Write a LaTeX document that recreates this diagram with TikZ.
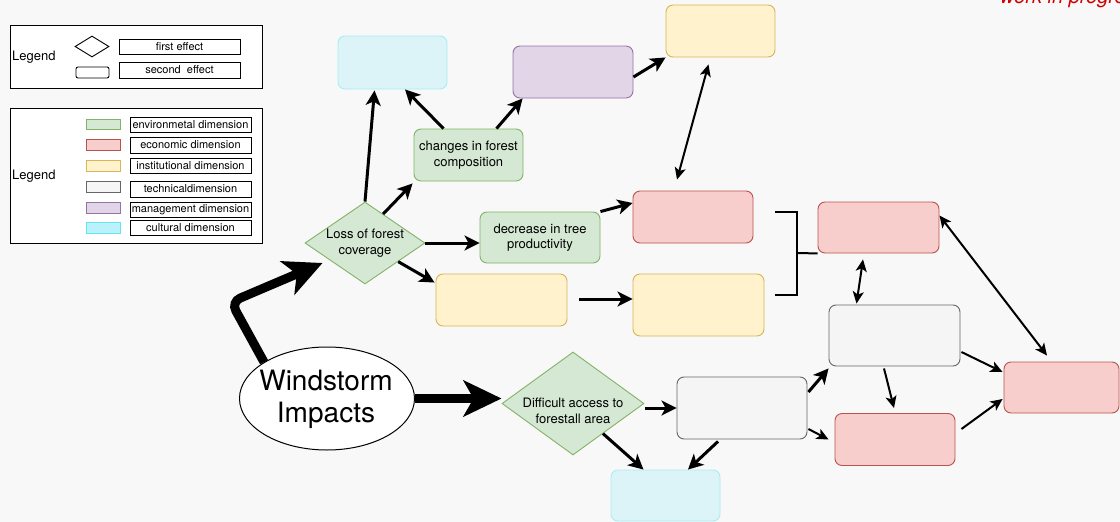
\documentclass[tikz,border=0pt]{standalone}
\usepackage{fontspec}
\setmainfont{TeX Gyre Heros}
\usetikzlibrary{shapes.geometric,arrows.meta,calc}
\definecolor{bg}{HTML}{F8F8F8}
\definecolor{gfill}{HTML}{D5E8D4}\definecolor{gline}{HTML}{82B366}
\definecolor{rfill}{HTML}{F8CECC}\definecolor{rline}{HTML}{B85450}
\definecolor{yfill}{HTML}{FFF2CC}\definecolor{yline}{HTML}{D6B656}
\definecolor{kfill}{HTML}{F5F5F5}\definecolor{kline}{HTML}{666666}
\definecolor{pfill}{HTML}{E1D5E7}\definecolor{pline}{HTML}{9673A6}
\definecolor{cfill}{HTML}{DCF4F8}\definecolor{cline}{HTML}{A6EEF5}
\definecolor{csw}{HTML}{B9F2FA}\definecolor{cswline}{HTML}{66E4EF}
\definecolor{wip}{HTML}{D00000}
\begin{document}
\begin{tikzpicture}[x=1pt,y=-1pt,
  font=\fontsize{13}{15.5}\selectfont,
  bx/.style={draw, rounded corners=7pt, line width=0.9pt, inner sep=0pt, align=center},
  grn/.style={fill=gfill, draw=gline},
  redb/.style={fill=rfill, draw=rline},
  yelb/.style={fill=yfill, draw=yline},
  gryb/.style={fill=kfill, draw=kline},
  purb/.style={fill=pfill, draw=pline},
  cyab/.style={fill=cfill, draw=cline},
  dia/.style={diamond, inner sep=0pt, line width=0.9pt},
  lbox/.style={draw, fill=white, line width=1pt, inner sep=0pt, font=\fontsize{11}{13}\selectfont},
  sw/.style={line width=0.9pt, inner sep=0pt, minimum width=34pt},
  arrmed/.style={line width=3pt, -{Stealth[length=15pt,width=15pt,inset=4pt]}},
  arrthin/.style={line width=2pt, -{Stealth[length=12pt,width=11pt,inset=3pt]}},
  arrdbl/.style={line width=2pt, {Stealth[length=12pt,width=11pt,inset=3pt]}-{Stealth[length=12pt,width=11pt,inset=3pt]}},
  arrthick/.style={line width=9pt, -{Stealth[length=38pt,width=36pt,inset=10pt]}}
]
\useasboundingbox (0,0) rectangle (1120,522);
\fill[bg] (0,0) rectangle (1120,522);
\clip (0,0) rectangle (1120,522);

% work in progress
\node[anchor=base west, text=wip, font=\fontsize{20}{24}\selectfont\itshape, inner sep=0pt] (wipt) at (1000,4) {work in progress};

% legend 1
\node[draw, fill=white, line width=1pt, minimum width=252pt, minimum height=63pt, inner sep=0pt] (leg1) at (136,56.5) {};
\node[anchor=west, inner sep=0pt] (leg1t) at (12,57) {Legend};
\node[dia, draw, fill=white, minimum width=34pt, minimum height=21pt] (l1dia) at (92,46.5) {};
\node[draw, rounded corners=2pt, line width=0.9pt, fill=white, minimum width=33pt, minimum height=11pt, inner sep=0pt] (l1box) at (92.5,72.5) {};
\node[lbox, minimum width=121pt, minimum height=15pt] (l1a) at (179.5,46.5) {first effect};
\node[lbox, minimum width=121pt, minimum height=16pt] (l1b) at (179.5,70) {second\ \ effect};

% legend 2
\node[draw, fill=white, line width=1pt, minimum width=252pt, minimum height=135pt, inner sep=0pt] (leg2) at (136,175.5) {};
\node[anchor=west, inner sep=0pt] (leg2t) at (12,176) {Legend};
\node[sw, fill=gfill, draw=gline, minimum height=10pt] (s1) at (103,124) {};
\node[sw, fill=rfill, draw=rline, minimum height=11pt] (s2) at (103,145) {};
\node[sw, fill=yfill, draw=yline, minimum height=11pt] (s3) at (103,165.5) {};
\node[sw, fill=kfill, draw=kline, minimum height=11pt] (s4) at (103,186.5) {};
\node[sw, fill=pfill, draw=pline, minimum height=11pt] (s5) at (103,207.5) {};
\node[sw, fill=csw, draw=cswline, minimum height=11pt] (s6) at (103,227.5) {};
\node[lbox, minimum width=121pt, minimum height=15pt] (t1) at (190.5,124.5) {environmetal dimension};
\node[lbox, minimum width=121pt, minimum height=16pt] (t2) at (190.5,145) {economic dimension};
\node[lbox, minimum width=121pt, minimum height=15pt] (t3) at (190.5,165.5) {institutional dimension};
\node[lbox, minimum width=121pt, minimum height=16pt] (t4) at (190.5,189) {technicaldimension};
\node[lbox, minimum width=121pt, minimum height=15pt] (t5) at (190.5,209.5) {management dimension};
\node[lbox, minimum width=121pt, minimum height=15pt] (t6) at (190.5,227.5) {cultural dimension};

% main nodes
\node[bx, cyab, minimum width=109pt, minimum height=53pt] (cyanT) at (392.5,62.5) {};
\node[bx, purb, minimum width=120pt, minimum height=52pt] (purp) at (573,72) {};
\node[bx, yelb, minimum width=109pt, minimum height=52pt] (yelT) at (720.5,31) {};
\node[bx, grn, minimum width=109pt, minimum height=52pt] (chg) at (468.5,155) {changes in forest\\composition};
\node[dia, fill=gfill, draw=gline, minimum width=120pt, minimum height=82pt] (loss) at (365,243) {};
\node[align=center, inner sep=0pt] (losst) at (loss) {Loss of forest\\coverage};
\node[bx, grn, minimum width=120pt, minimum height=51pt] (dec) at (540,237.5) {decrease in tree\\productivity};
\node[bx, redb, minimum width=120pt, minimum height=52pt] (red1) at (693,217) {};
\node[bx, yelb, minimum width=131pt, minimum height=52pt] (yelM) at (501.5,300) {};
\node[bx, yelb, minimum width=131pt, minimum height=62pt] (yel2) at (698.5,305) {};
\node[bx, redb, minimum width=121pt, minimum height=51pt] (red2) at (878.5,227.5) {};
\node[bx, gryb, minimum width=131pt, minimum height=61pt] (grayB) at (894.5,335.5) {};
\node[bx, redb, minimum width=115pt, minimum height=51pt] (redR) at (1061.5,387.5) {};
\node[bx, redb, minimum width=120pt, minimum height=52pt] (redL) at (895,439.5) {};
\node[bx, gryb, minimum width=130pt, minimum height=62pt] (grayL) at (742,408) {};
\node[bx, cyab, minimum width=109pt, minimum height=51pt] (cyanB) at (665.5,495.5) {};
\node[dia, fill=gfill, draw=gline, minimum width=142pt, minimum height=103pt] (diff) at (573,403.5) {};
\node[align=center, inner sep=0pt, font=\fontsize{13}{16}\selectfont] (difft) at (573,411) {Difficult access to\\forestall area};
\node[ellipse, draw, fill=white, line width=1pt, minimum width=175pt, minimum height=103pt, inner sep=0pt] (wind) at (327,398.5) {};
\node[align=center, inner sep=0pt, font=\fontsize{28}{32}\selectfont] (windt) at (326,399) {Windstorm\\Impacts};

% thick arrows
\draw[arrthick] (wind.east) -- ($(diff.west)+(0,-5)$);
\draw[arrthick, rounded corners=10pt] (wind.150) -- (231,302) -- ($(loss.west)+(18,20)$);

% medium arrows
\draw[arrmed] (loss.north) -- ($(cyanT.south)+(-18,1)$);
\draw[arrmed] ($(loss.north)!0.3!(loss.east)$) -- ($(chg.south west)+(-1,2)$);
\draw[arrmed] (loss.east) -- (dec.west |- loss.east);
\draw[arrmed] ($(loss.east)!0.45!(loss.south)$) -- ($(yelM.north west)+(-1,9)$);
\draw[arrmed] ($(chg.north)+(-25,0)$) -- ($(cyanT.south)+(12.5,0)$);
\draw[arrmed] ($(chg.north)+(28,0)$) -- ($(purp.south west)+(10,0)$);
\draw[arrmed] ($(purp.east)+(0,5)$) -- (yelT.south west);
\draw[arrmed] (dec.north east) -- ($(red1.west)+(0,-14)$);
\draw[arrmed] ($(yelM.east)+(12,-1)$) -- ($(yel2.west)+(0,-6)$);
\draw[arrmed] ($(diff.east)+(1,4.5)$) -- (grayL.west);
\draw[arrmed] ($(diff.east)!0.58!(diff.south)$) -- ($(cyanB.north)+(-22,0)$);
\draw[arrmed] ($(grayL.south)+(-24,2)$) -- ($(cyanB.north)+(22.5,0)$);
\draw[arrmed] ($(grayL.east)+(1,-16)$) -- ($(grayB.south west)+(0,2)$);

% thin arrows
\draw[arrthin] ($(grayL.east)+(1,21)$) -- ($(redL.west)+(-6,0)$);
\draw[arrthin] ($(grayB.south)+(-10.5,2)$) -- ($(redL.north)+(-1,-5)$);
\draw[arrthin] ($(grayB.east)+(1,16.5)$) -- ($(redR.west)+(-1,-15.5)$);
\draw[arrthin] ($(redL.east)+(6,-10.5)$) -- ($(redR.west)+(-1,11.5)$);

% double arrows
\draw[arrdbl] ($(yelT.south)+(-12,7)$) -- ($(red1.north)+(-16,-11)$);
\draw[arrdbl] ($(red2.south)+(-15.5,6)$) -- ($(grayB.north)+(-38,-1)$);
\draw[arrdbl] ($(red2.east)+(0,-12)$) -- ($(redR.north)+(-14.5,-6)$);

% bracket
\coordinate (brA) at (775,212);
\coordinate (brB) at (775,295);
\coordinate (brM) at (797,253);
\draw[line width=2pt] (brA) -- ++(22,0) |- (brB);
\draw[line width=2pt] (brM) -- (red2.south west);
\end{tikzpicture}
\end{document}
